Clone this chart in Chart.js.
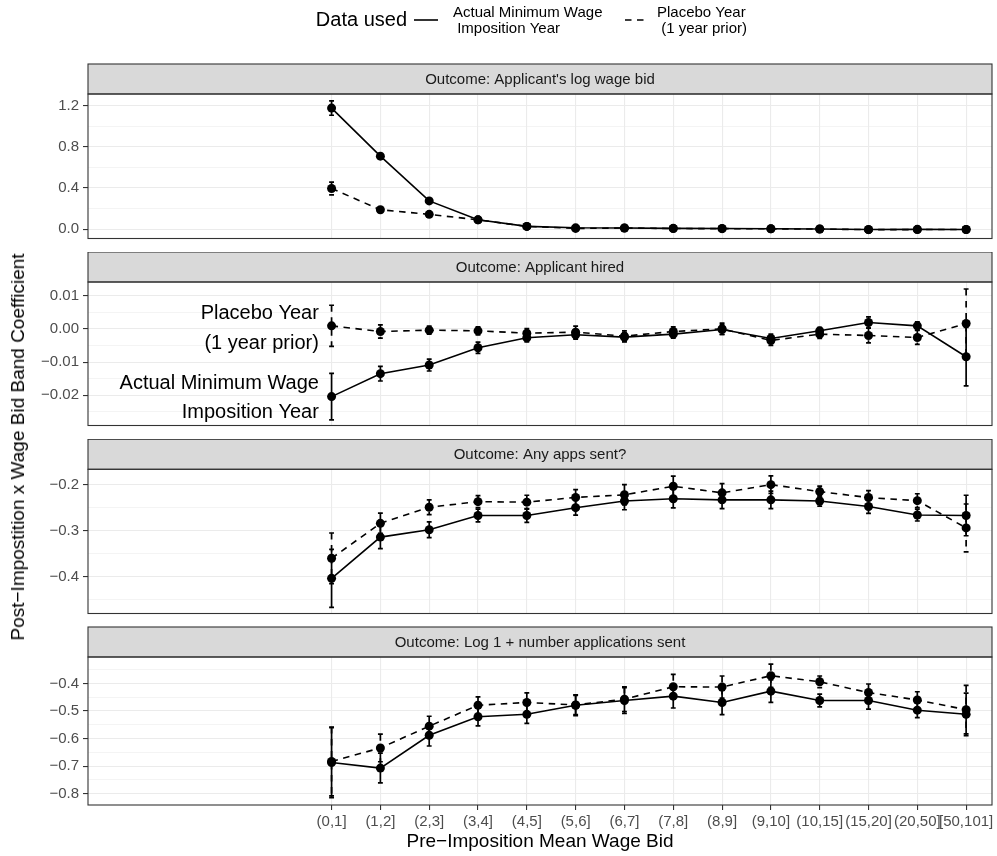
<!DOCTYPE html>
<html>
<head>
<meta charset="utf-8">
<script src="https://cdn.jsdelivr.net/npm/chart.js@4.4.0/dist/chart.umd.min.js"></script>
<style>
  body { margin: 0; background: #fff; }
  #wrap { position: relative; width: 997px; height: 856px; overflow: hidden; background: #fff; }
  #wrap canvas { position: absolute; left: 0; }
  #ytitle {
    position: absolute; left: 18px; top: 447px;
    transform: translate(-50%, -50%) rotate(-90deg);
    white-space: nowrap; color: #000;
    font: 19px 'Liberation Sans', Arial, Helvetica, sans-serif;
  }
</style>
</head>
<body>
<div id="wrap">
  <canvas id="p1" width="997" height="243" style="top:0px"></canvas>
  <canvas id="p2" width="997" height="178" style="top:252px"></canvas>
  <canvas id="p3" width="997" height="179" style="top:439px"></canvas>
  <canvas id="p4" width="997" height="230" style="top:626px"></canvas>
  <div id="ytitle">Post−Impostition x Wage Bid Band Coefficient</div>
</div>
<script>
// x categories (pre-imposition mean wage bid bands)
const bands = ['(0,1]', '(1,2]', '(2,3]', '(3,4]', '(4,5]', '(5,6]', '(6,7]', '(7,8]',
  '(8,9]', '(9,10]', '(10,15]', '(15,20]', '(20,50]', '[50,101]'];

const legendTitle = 'Data used';
const legendLabels = [['Actual Minimum Wage', ' Imposition Year'], ['Placebo Year', ' (1 year prior)']];

// panel 1: log wage bid
const wageActual = [1.178, 0.71, 0.274, 0.09, 0.026, 0.012, 0.01, 0.007, 0.005, 0.003, 0.0, -0.004, -0.003, -0.004];
const wageActualErr = [0.07, 0.015, 0.01, 0.008, 0.006, 0.005, 0.005, 0.005, 0.005, 0.005, 0.005, 0.005, 0.005, 0.006];
const wagePlacebo = [0.395, 0.188, 0.143, 0.09, 0.026, 0.006, 0.01, 0.005, 0.004, 0.002, 0.0, -0.006, -0.005, -0.004];
const wagePlaceboErr = [0.062, 0.012, 0.01, 0.008, 0.006, 0.005, 0.005, 0.005, 0.005, 0.005, 0.005, 0.005, 0.005, 0.006];
const wageTicks = [0, 0.4, 0.8, 1.2];
const wageTickLabels = ['0.0', '0.4', '0.8', '1.2'];
const wageMinor = [0.2, 0.6, 1.0];

// panel 2: applicant hired
const hiredActual = [-0.0204, -0.0135, -0.0109, -0.0057, -0.0027, -0.0018, -0.0025, -0.0016, -0.0002, -0.0029, -0.0006, 0.0019, 0.0009, -0.0084];
const hiredActualErr = [0.007, 0.0022, 0.0018, 0.0017, 0.0012, 0.0013, 0.0014, 0.0012, 0.0015, 0.0013, 0.001, 0.0017, 0.0012, 0.0088];
const hiredPlacebo = [0.0009, -0.0008, -0.0004, -0.0006, -0.0013, -0.001, -0.0022, -0.0008, 0.0, -0.0035, -0.0016, -0.002, -0.0026, 0.0016];
const hiredPlaceboErr = [0.0062, 0.002, 0.0012, 0.0012, 0.0014, 0.0018, 0.0016, 0.0014, 0.0017, 0.0015, 0.0013, 0.0022, 0.0021, 0.0104];
const hiredTicks = [0.01, 0, -0.01, -0.02];
const hiredTickLabels = ['0.01', '0.00', '\u22120.01', '\u22120.02'];
const hiredMinor = [0.005, -0.005, -0.015, -0.025];
const hiredNotes = ['Placebo Year', '(1 year prior)', 'Actual Minimum Wage', 'Imposition Year'];
const hiredNotesY = [0.0046, -0.0045, -0.0165, -0.0253];
const hiredNotesX = -0.26;

// panel 3: any apps sent
const anyActual = [-0.4036, -0.314, -0.298, -0.267, -0.267, -0.25, -0.2355, -0.2305, -0.233, -0.233, -0.2355, -0.2475, -0.266, -0.267];
const anyActualErr = [0.063, 0.025, 0.017, 0.014, 0.015, 0.016, 0.019, 0.02, 0.019, 0.019, 0.011, 0.015, 0.013, 0.044];
const anyPlacebo = [-0.36, -0.284, -0.249, -0.237, -0.238, -0.2277, -0.222, -0.2035, -0.2177, -0.2, -0.215, -0.228, -0.2347, -0.294];
const anyPlaceboErr = [0.055, 0.022, 0.016, 0.013, 0.015, 0.017, 0.022, 0.022, 0.02, 0.019, 0.012, 0.015, 0.015, 0.052];
const anyTicks = [-0.2, -0.3, -0.4];
const anyTickLabels = ['\u22120.2', '\u22120.3', '\u22120.4'];
const anyMinor = [-0.25, -0.35, -0.45];

// panel 4: log 1 + number applications sent
const nappActual = [-0.687, -0.707, -0.588, -0.521, -0.512, -0.479, -0.462, -0.446, -0.469, -0.428, -0.462, -0.462, -0.497, -0.512];
const nappActualErr = [0.127, 0.054, 0.039, 0.033, 0.033, 0.038, 0.047, 0.043, 0.044, 0.041, 0.023, 0.031, 0.027, 0.077];
const nappPlacebo = [-0.683, -0.634, -0.555, -0.479, -0.469, -0.478, -0.457, -0.412, -0.413, -0.372, -0.394, -0.433, -0.46, -0.495];
const nappPlaceboErr = [0.125, 0.05, 0.036, 0.03, 0.035, 0.035, 0.045, 0.045, 0.04, 0.042, 0.021, 0.031, 0.03, 0.088];
const nappTicks = [-0.4, -0.5, -0.6, -0.7, -0.8];
const nappTickLabels = ['\u22120.4', '\u22120.5', '\u22120.6', '\u22120.7', '\u22120.8'];
const nappMinor = [-0.35, -0.45, -0.55, -0.65, -0.75];

const FONT = "'Liberation Sans', Arial, Helvetica, sans-serif";
const GRID = '#EBEBEB';
const INK = '#333333';
const DASH = [6.5, 5.5];

function series(vals, errs, dash) {
  return {
    data: vals.map((v, i) => ({ x: i, y: v })),
    err: errs,
    borderColor: '#000',
    borderWidth: 1.6,
    borderDash: dash,
    pointRadius: 4.5,
    pointBorderWidth: 0,
    pointBackgroundColor: '#000',
    tension: 0,
    fill: false
  };
}

// error bars, drawn through the chart's own scales
const errorBars = {
  id: 'errorBars',
  beforeDatasetsDraw(chart) {
    const { ctx, scales: { x, y } } = chart;
    chart.data.datasets.forEach(ds => {
      ctx.save();
      ctx.strokeStyle = '#000';
      ctx.lineWidth = 1.7;
      ds.data.forEach((p, i) => {
        const e = ds.err[i];
        const px = x.getPixelForValue(p.x);
        const top = y.getPixelForValue(p.y + e);
        const bot = y.getPixelForValue(p.y - e);
        const l = x.getPixelForValue(p.x - 0.05);
        const r = x.getPixelForValue(p.x + 0.05);
        ctx.setLineDash(ds.borderDash || []);
        ctx.beginPath();
        ctx.moveTo(px, top);
        ctx.lineTo(px, bot);
        ctx.stroke();
        ctx.setLineDash([]);
        ctx.beginPath();
        ctx.moveTo(l, top); ctx.lineTo(r, top);
        ctx.moveTo(l, bot); ctx.lineTo(r, bot);
        ctx.stroke();
      });
      ctx.restore();
    });
  }
};

function decoPlugin(stripText, extra) {
  return {
    id: 'deco',
    afterDraw(chart) {
      const { ctx, chartArea: a } = chart;
      ctx.save();
      // strip
      const sh = 30;
      ctx.fillStyle = '#D9D9D9';
      ctx.fillRect(a.left, a.top - sh, a.right - a.left, sh);
      ctx.strokeStyle = INK;
      ctx.lineWidth = 1.1;
      ctx.strokeRect(a.left, a.top - sh, a.right - a.left, sh);
      ctx.fillStyle = '#1A1A1A';
      ctx.font = '15px ' + FONT;
      ctx.textAlign = 'center';
      ctx.textBaseline = 'middle';
      ctx.fillText(stripText, (a.left + a.right) / 2, a.top - sh / 2 + 1);
      // panel border
      ctx.strokeRect(a.left, a.top, a.right - a.left, a.bottom - a.top);
      ctx.restore();
      if (extra) extra(chart);
    }
  };
}

function drawLegend(chart) {
  const ctx = chart.ctx;
  ctx.save();
  ctx.fillStyle = '#000';
  ctx.textBaseline = 'middle';
  ctx.textAlign = 'right';
  ctx.font = '20px ' + FONT;
  ctx.fillText(legendTitle, 407, 20);
  ctx.textAlign = 'left';
  const keys = [[414, 438, []], [625, 649, DASH]];
  const labelX = [453, 657];
  ctx.strokeStyle = '#000';
  ctx.lineWidth = 1.6;
  keys.forEach((k, j) => {
    ctx.setLineDash(k[2]);
    ctx.beginPath();
    ctx.moveTo(k[0], 20);
    ctx.lineTo(k[1], 20);
    ctx.stroke();
    ctx.font = '15px ' + FONT;
    ctx.fillText(legendLabels[j][0], labelX[j], 12.5);
    ctx.fillText(legendLabels[j][1], labelX[j], 28.5);
  });
  ctx.restore();
}

function drawNotes(chart) {
  const { ctx, scales: { x, y } } = chart;
  ctx.save();
  ctx.fillStyle = '#000';
  ctx.font = '20px ' + FONT;
  ctx.textAlign = 'right';
  ctx.textBaseline = 'middle';
  hiredNotes.forEach((t, i) => {
    ctx.fillText(t, x.getPixelForValue(hiredNotesX), y.getPixelForValue(hiredNotesY[i]));
  });
  ctx.restore();
}

function makePanel(id, o) {
  const last = !!o.xTitle;
  return new Chart(document.getElementById(id), {
    type: 'line',
    data: {
      datasets: [
        series(o.actual, o.actualErr, []),
        series(o.placebo, o.placeboErr, DASH)
      ]
    },
    options: {
      responsive: false,
      animation: false,
      devicePixelRatio: 1,
      layout: { padding: { top: o.padTop, bottom: o.padBottom, left: 0, right: 5 } },
      plugins: { legend: { display: false }, tooltip: { enabled: false } },
      scales: {
        x: {
          type: 'linear',
          min: -4.99,
          max: 13.53,
          afterBuildTicks: s => { s.ticks = bands.map((b, i) => ({ value: i })); },
          afterFit: s => { s.height = last ? 51 : 0; s.paddingLeft = 0; s.paddingRight = 0; },
          ticks: {
            display: last,
            autoSkip: false,
            maxRotation: 0,
            minRotation: 0,
            padding: 3,
            color: '#4D4D4D',
            font: { family: FONT, size: 15 },
            callback: v => bands[v]
          },
          grid: { color: GRID, lineWidth: 1.1, drawTicks: last, tickColor: INK, tickLength: 5, tickWidth: 1.1 },
          border: { display: false },
          title: {
            display: last,
            text: o.xTitle || '',
            color: '#000',
            font: { family: FONT, size: 19 },
            padding: { top: 0, bottom: 3 }
          }
        },
        y: {
          min: o.yMin,
          max: o.yMax,
          afterBuildTicks: s => {
            s.ticks = o.ticks.concat(o.minor).sort((a, b) => a - b).map(v => ({ value: v }));
          },
          afterFit: s => { s.width = 88; s.paddingTop = 0; s.paddingBottom = 0; },
          ticks: {
            autoSkip: false,
            padding: 4,
            color: '#4D4D4D',
            font: { family: FONT, size: 15 },
            callback: v => {
              const k = o.ticks.indexOf(v);
              return k >= 0 ? o.tickLabels[k] : '';
            }
          },
          grid: {
            color: GRID,
            lineWidth: c => (c.tick && o.ticks.indexOf(c.tick.value) >= 0 ? 1.1 : 0.55),
            tickColor: c => (c.tick && o.ticks.indexOf(c.tick.value) >= 0 ? INK : 'rgba(0,0,0,0)'),
            tickLength: 5,
            tickWidth: 1.1
          },
          border: { display: false }
        }
      }
    },
    plugins: [errorBars, decoPlugin(o.strip, o.extra)]
  });
}

makePanel('p1', {
  strip: "Outcome: Applicant's log wage bid",
  actual: wageActual, actualErr: wageActualErr, placebo: wagePlacebo, placeboErr: wagePlaceboErr,
  ticks: wageTicks, tickLabels: wageTickLabels, minor: wageMinor,
  yMin: -0.092, yMax: 1.315, padTop: 94, padBottom: 1.7, extra: drawLegend
});

makePanel('p2', {
  strip: 'Outcome: Applicant hired',
  actual: hiredActual, actualErr: hiredActualErr, placebo: hiredPlacebo, placeboErr: hiredPlaceboErr,
  ticks: hiredTicks, tickLabels: hiredTickLabels, minor: hiredMinor,
  yMin: -0.0291, yMax: 0.0141, padTop: 30, padBottom: 1.3, extra: drawNotes
});

makePanel('p3', {
  strip: 'Outcome: Any apps sent?',
  actual: anyActual, actualErr: anyActualErr, placebo: anyPlacebo, placeboErr: anyPlaceboErr,
  ticks: anyTicks, tickLabels: anyTickLabels, minor: anyMinor,
  yMin: -0.48, yMax: -0.1666, padTop: 30.3, padBottom: 1.3
});

makePanel('p4', {
  strip: 'Outcome: Log 1 + number applications sent',
  actual: nappActual, actualErr: nappActualErr, placebo: nappPlacebo, placeboErr: nappPlaceboErr,
  ticks: nappTicks, tickLabels: nappTickLabels, minor: nappMinor,
  yMin: -0.841, yMax: -0.304, padTop: 31, padBottom: 0,
  xTitle: 'Pre\u2212Imposition Mean Wage Bid'
});
</script>
</body>
</html>
